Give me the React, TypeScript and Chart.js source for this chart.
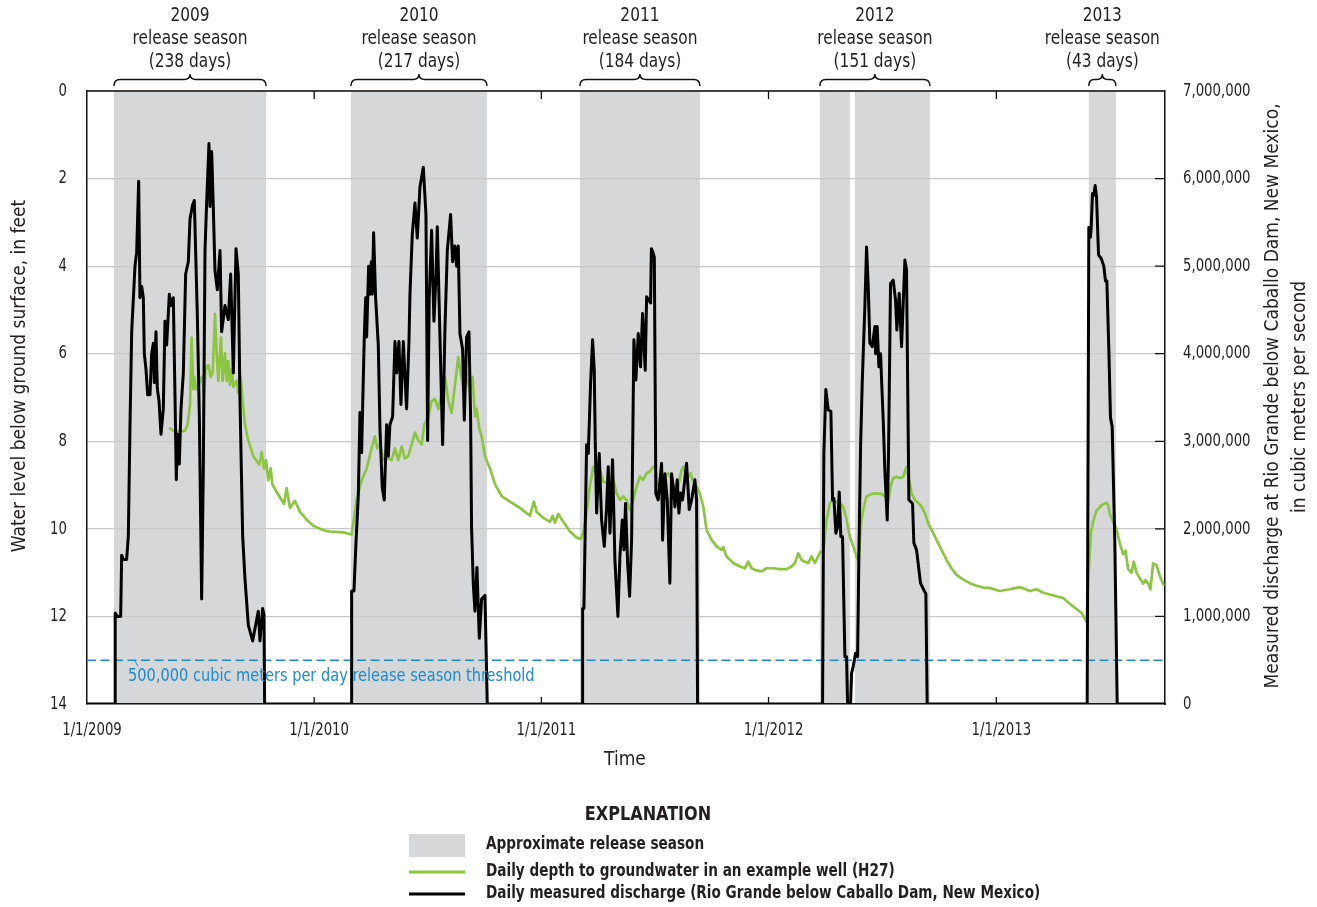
import { useEffect, useRef } from "react";
import { Chart, registerables } from "chart.js";

Chart.register(...registerables);

// ---- Time axis (days since 1/1/2009) ----
const YEAR_TICKS = [0, 365, 730, 1095, 1461];
const YEAR_LABELS = ["1/1/2009", "1/1/2010", "1/1/2011", "1/1/2012", "1/1/2013"];
const X_MAX = 1732;

// ---- Release seasons ----
const SEASON_YEARS = ["2009", "2010", "2011", "2012", "2013"];
const SEASON_LENGTH_DAYS = [238, 217, 184, 151, 43];
// shaded spans for each season, [start, end] in days since 1/1/2009
const SEASON_SPANS: number[][][] = [
  [[43.4, 287.6]],
  [[424.1, 642.6]],
  [[792.0, 984.7]],
  [[1177.5, 1225.7], [1233.7, 1354.2]],
  [[1609.6, 1653.0]],
];

// ---- Daily measured discharge, Rio Grande below Caballo Dam ----
const FLOW_DAY = [
  0, 45.0, 45.3, 48.7, 54.1, 55.7, 58.4, 63.7, 66.4, 69.1, 71.8, 77.1, 79.8, 83.0, 85.1, 87.8, 90.5, 92.1, 94.8, 97.5,
  101.2, 103.9, 106.6, 108.2, 110.8, 113.0, 115.7, 118.9, 122.6, 125.3, 128.0, 132.3, 134.9, 138.7, 141.4, 143.5, 145.6,
  148.3, 151.0, 154.8, 158.5, 162.8, 165.5, 169.7, 172.4, 177.2, 180.5, 184.2, 186.9, 189.6, 192.2, 196.0, 197.6, 200.3,
  202.9, 205.6, 209.4, 213.7, 216.3, 221.7, 227.0, 230.8, 235.1, 239.4, 243.1, 245.8, 250.1, 253.8, 259.2, 266.1, 275.2,
  277.9, 282.2, 284.3, 285.4,
  424.6, 425.2, 428.9, 432.1, 435.9, 438.6, 441.2, 442.8, 445.5, 447.7, 449.3, 452.5, 454.6, 456.8, 458.4, 460.5, 463.7,
  468.0, 470.7, 474.4, 477.6, 481.4, 484.1, 486.7, 491.0, 494.8, 497.5, 501.2, 504.4, 508.2, 513.5, 517.3, 518.9, 522.6,
  526.9, 530.7, 534.9, 540.3, 544.6, 547.3, 549.9, 553.7, 557.4, 560.6, 562.8, 567.1, 571.4, 575.1, 578.9, 584.2, 587.4,
  591.2, 593.8, 596.5, 599.2, 603.5, 606.2, 609.9, 613.7, 616.3, 617.9, 620.6, 623.3, 626.5, 630.3, 634.0, 639.4, 643.1,
  796.0, 796.3, 798.4, 802.7, 805.4, 809.1, 812.3, 815.0, 816.6, 818.8, 823.0, 826.8, 831.1, 834.8, 837.5, 840.2, 844.4,
  848.2, 853.0, 856.2, 860.0, 862.7, 865.3, 868.6, 871.8, 875.0, 878.7, 881.9, 885.7, 889.4, 892.6, 896.9, 899.1, 905.5,
  906.8, 909.7, 911.5, 914.0, 917.8, 923.2, 924.8, 928.5, 932.3, 936.5, 939.2, 941.9, 944.6, 948.3, 951.0, 953.7, 956.9,
  963.3, 967.6, 971.4, 976.7, 979.4, 981.0,
  1181.8, 1183.9, 1187.1, 1190.9, 1195.2, 1197.9, 1200.0, 1203.2, 1205.9, 1208.6, 1211.2, 1213.9, 1217.7, 1220.4, 1222.0,
  1226.8, 1228.4, 1231.1, 1234.8, 1238.1, 1240.2, 1242.9, 1245.5, 1249.8, 1252.5, 1255.2, 1257.8, 1261.6, 1265.9, 1267.0,
  1269.6, 1272.3, 1275.0, 1277.1, 1279.3, 1281.9, 1285.7, 1287.8, 1291.0, 1295.3, 1299.1, 1301.2, 1305.0, 1308.7, 1314.1,
  1316.7, 1320.5, 1326.4, 1328.5, 1332.8, 1339.2, 1344.6, 1347.8, 1349.9,
  1607.0, 1609.6, 1612.3, 1613.4, 1615.5, 1617.7, 1619.8, 1622.0, 1625.2, 1630.0, 1633.7, 1636.4, 1638.6, 1641.8, 1644.4,
  1647.1, 1651.4, 1655.2, 1732,
];
const FLOW_M3 = [
  0, 0, 1.04e6, 1.0e6, 1.0e6, 1.7e6, 1.65e6, 1.65e6, 1.92e6, 3.19e6, 4.25e6, 5.0e6, 5.16e6, 5.97e6, 4.64e6, 4.77e6,
  4.64e6, 4.0e6, 3.82e6, 3.53e6, 3.53e6, 4.0e6, 4.12e6, 3.67e6, 4.25e6, 3.6e6, 3.46e6, 3.08e6, 3.37e6, 4.37e6, 4.1e6,
  4.68e6, 4.55e6, 4.64e6, 3.51e6, 2.56e6, 3.08e6, 2.74e6, 3.37e6, 3.78e6, 4.91e6, 5.05e6, 5.54e6, 5.7e6, 5.75e6, 4.46e6,
  3.28e6, 1.2e6, 2.69e6, 5.18e6, 5.72e6, 6.4e6, 5.68e6, 6.31e6, 5.68e6, 4.95e6, 4.73e6, 5.18e6, 4.25e6, 4.55e6, 4.39e6,
  4.91e6, 3.78e6, 5.2e6, 4.91e6, 3.46e6, 1.92e6, 1.43e6, 0.9e6, 0.72e6, 1.06e6, 0.72e6, 1.09e6, 1.02e6, 0,
  0, 1.29e6, 1.29e6, 1.83e6, 2.38e6, 3.33e6, 2.87e6, 3.37e6, 4.19e6, 4.64e6, 4.19e6, 5.0e6, 4.68e6, 5.05e6, 4.68e6,
  5.38e6, 4.64e6, 4.1e6, 3.14e6, 2.47e6, 2.33e6, 3.19e6, 2.83e6, 3.19e6, 3.28e6, 4.14e6, 3.78e6, 4.14e6, 3.42e6, 4.14e6,
  3.37e6, 4.14e6, 4.68e6, 5.36e6, 5.72e6, 5.32e6, 5.9e6, 6.13e6, 5.59e6, 3.01e6, 4.64e6, 5.41e6, 4.37e6, 4.86e6, 5.45e6,
  4.19e6, 2.96e6, 4.28e6, 5.18e6, 5.59e6, 5.05e6, 5.23e6, 5.0e6, 5.23e6, 4.23e6, 4.05e6, 3.24e6, 4.19e6, 4.25e6, 3.28e6,
  2.01e6, 1.38e6, 1.06e6, 1.56e6, 0.75e6, 1.2e6, 1.24e6, 0,
  0, 1.09e6, 1.09e6, 2.96e6, 2.86e6, 3.66e6, 4.16e6, 3.81e6, 3.01e6, 2.18e6, 2.86e6, 2.1e6, 1.8e6, 2.25e6, 2.71e6,
  1.95e6, 2.79e6, 1.64e6, 1.0e6, 1.68e6, 2.1e6, 1.76e6, 2.29e6, 1.61e6, 1.23e6, 1.87e6, 4.16e6, 3.7e6, 4.23e6, 3.85e6,
  4.46e6, 3.81e6, 4.65e6, 4.58e6, 5.2e6, 5.15e6, 5.1e6, 2.4e6, 2.33e6, 2.75e6, 1.87e6, 2.63e6, 2.33e6, 1.38e6, 2.63e6,
  2.48e6, 2.25e6, 2.56e6, 2.18e6, 2.41e6, 2.33e6, 2.75e6, 2.22e6, 2.33e6, 2.56e6, 2.33e6, 0,
  0, 2.86e6, 3.59e6, 3.36e6, 3.34e6, 2.33e6, 2.35e6, 1.95e6, 2.02e6, 2.42e6, 1.91e6, 1.91e6, 0.54e6, 0.54e6, 0, 0,
  0.35e6, 0.43e6, 0.58e6, 0.54e6, 1.72e6, 2.94e6, 3.66e6, 4.54e6, 5.22e6, 4.77e6, 4.12e6, 4.08e6, 4.31e6, 4.0e6, 4.31e6,
  3.85e6, 4.0e6, 3.62e6, 3.24e6, 2.67e6, 2.1e6, 2.86e6, 4.8e6, 4.84e6, 4.61e6, 4.27e6, 4.69e6, 4.08e6, 5.07e6, 4.96e6,
  2.33e6, 2.29e6, 1.84e6, 1.76e6, 1.38e6, 1.3e6, 1.26e6, 0,
  0, 5.44e6, 5.33e6, 5.44e6, 5.83e6, 5.81e6, 5.92e6, 5.79e6, 5.13e6, 5.08e6, 5.0e6, 4.83e6, 4.83e6, 4.04e6, 3.27e6,
  3.17e6, 1.85e6, 0, 0,
];

// ---- Daily depth to groundwater, well H27 ----
const WELL_DAY = [
  132.3, 138.7, 149.4, 157.4, 161.7, 165.5, 168.1, 170.8, 172.4, 175.1, 178.8, 184.2, 188.0, 190.6, 194.9, 198.7, 201.9,
  205.6, 208.3, 211.0, 215.3, 217.9, 221.7, 224.4, 227.0, 229.7, 232.4, 235.1, 240.4, 243.1, 246.9, 250.1, 253.8, 259.2,
  267.2, 276.8, 280.6, 284.3, 287.6, 291.3, 295.1, 297.7, 304.7, 312.7, 316.5, 320.7, 326.1, 334.1, 342.2, 352.9, 363.6,
  374.3, 385.0, 390.4, 411.8, 425.2, 433.2, 441.3, 449.3, 457.3, 462.7, 466.4, 470.7, 476.1, 484.1, 489.4, 494.8, 500.1,
  505.5, 510.8, 516.2, 521.6, 526.9, 532.3, 537.6, 541.9, 548.3, 553.7, 559.0, 564.4, 569.8, 575.1, 580.5, 585.8, 591.2,
  596.5, 600.3, 604.6, 609.9, 615.3, 619.6, 623.3, 626.0, 630.3, 634.0, 639.4, 647.4, 655.4, 666.1, 679.5, 695.6, 711.6,
  718.1, 722.4, 733.1, 743.8, 748.1, 751.8, 757.2, 765.2, 775.9, 786.7, 793.1, 797.3, 802.7, 808.0, 813.4, 818.8, 824.1,
  829.4, 837.5, 845.5, 850.9, 856.2, 861.6, 866.9, 872.3, 877.6, 883.0, 888.4, 893.7, 899.1, 904.4, 909.8, 912.4, 917.8,
  925.8, 933.9, 939.2, 944.6, 949.9, 955.3, 959.0, 963.3, 969.7, 974.0, 979.4, 984.7, 990.1, 995.4, 1003.5, 1011.5,
  1019.5, 1022.2, 1027.6, 1038.3, 1049.0, 1057.0, 1062.4, 1067.7, 1075.8, 1083.8, 1091.8, 1102.6, 1113.3, 1124.0, 1132.0,
  1137.3, 1142.7, 1148.1, 1153.4, 1158.8, 1164.1, 1169.5, 1174.8, 1178.6, 1182.9, 1188.2, 1193.6, 1197.9, 1203.2, 1209.6,
  1215.0, 1220.4, 1225.7, 1231.1, 1236.4, 1239.6, 1241.8, 1244.4, 1248.2, 1252.5, 1260.5, 1268.5, 1276.6, 1281.9, 1287.3,
  1291.0, 1295.3, 1300.7, 1306.0, 1311.4, 1316.7, 1321.0, 1324.8, 1330.1, 1335.5, 1340.8, 1346.2, 1351.5, 1356.9, 1364.9,
  1372.9, 1381.0, 1389.0, 1397.0, 1407.8, 1418.5, 1429.2, 1439.9, 1450.6, 1466.7, 1482.7, 1498.8, 1514.9, 1525.6, 1536.3,
  1547.0, 1557.7, 1568.4, 1579.1, 1589.8, 1597.9, 1605.9, 1608.5, 1611.2, 1613.0, 1616.6, 1622.0, 1630.0, 1638.0, 1640.7,
  1643.4, 1648.7, 1654.1, 1659.4, 1664.8, 1668.5, 1672.8, 1678.2, 1681.9, 1686.2, 1691.6, 1696.9, 1700.7, 1705.0, 1708.7,
  1713.0, 1718.3, 1723.7, 1730.1,
];
const WELL_DEPTH_FT = [
  7.69, 7.76, 7.78, 7.76, 7.62, 7.17, 5.63, 6.81, 6.53, 6.81, 6.71, 6.53, 6.9, 6.35, 6.26, 6.53, 6.44, 5.09, 5.99, 6.62,
  5.63, 6.62, 5.99, 6.62, 6.17, 6.71, 6.35, 6.76, 6.62, 6.9, 6.53, 7.08, 7.62, 7.98, 8.34, 8.53, 8.25, 8.62, 8.43, 8.89,
  8.62, 8.98, 9.16, 9.34, 9.43, 9.07, 9.52, 9.36, 9.61, 9.79, 9.93, 10.0, 10.05, 10.06, 10.08, 10.13, 9.34, 8.89, 8.62,
  8.16, 7.89, 8.16, 8.07, 8.43, 8.39, 8.43, 8.16, 8.43, 8.12, 8.39, 8.34, 8.07, 7.8, 7.98, 8.07, 7.62, 7.44, 7.08, 7.03,
  7.26, 6.9, 6.53, 7.08, 7.35, 6.71, 6.08, 6.44, 6.81, 6.44, 6.9, 6.53, 7.44, 7.26, 7.71, 7.89, 8.34, 8.62, 8.98, 9.25,
  9.38, 9.52, 9.7, 9.38, 9.61, 9.75, 9.84, 9.7, 9.86, 9.66, 9.84, 10.06, 10.2, 10.23, 10.1, 9.64, 9.03, 8.58, 8.73, 8.65,
  8.92, 8.96, 8.88, 9.19, 9.34, 9.26, 9.34, 9.57, 9.34, 9.03, 8.81, 8.88, 8.73, 8.69, 8.58, 8.58, 9.03, 8.81, 8.73, 8.88,
  9.11, 9.03, 8.65, 8.58, 8.88, 8.73, 8.92, 9.03, 9.19, 9.49, 10.02, 10.25, 10.4, 10.48, 10.42, 10.63, 10.78, 10.86,
  10.9, 10.75, 10.9, 10.95, 10.97, 10.9, 10.9, 10.92, 10.92, 10.86, 10.78, 10.56, 10.71, 10.75, 10.78, 10.63, 10.78,
  10.63, 10.52, 10.56, 9.79, 9.41, 9.34, 9.38, 9.41, 9.49, 9.79, 10.18, 10.4, 10.63, 10.75, 10.25, 9.79, 9.49, 9.26, 9.2,
  9.19, 9.2, 9.26, 9.41, 9.03, 8.84, 8.81, 8.84, 8.81, 8.58, 8.88, 9.19, 9.34, 9.41, 9.49, 9.64, 9.87, 10.02, 10.25,
  10.48, 10.71, 10.9, 11.05, 11.16, 11.24, 11.3, 11.34, 11.35, 11.42, 11.38, 11.33, 11.42, 11.38, 11.46, 11.5, 11.54,
  11.58, 11.71, 11.83, 11.92, 12.12, 11.2, 10.5, 10.1, 9.83, 9.58, 9.46, 9.4, 9.46, 9.67, 9.83, 10.0, 10.33, 10.58,
  10.5, 10.92, 11.0, 10.75, 11.0, 11.13, 11.25, 11.17, 11.25, 11.38, 10.79, 10.83, 11.08, 11.29,
];

const THRESHOLD_M3 = 500000;
const THRESHOLD_LABEL = "500,000 cubic meters per day release season threshold";

const SEASON_LEGEND = "Approximate release season";
const FLOW_LABEL = "Daily measured discharge (Rio Grande below Caballo Dam, New Mexico)";
const WELL_LABEL = "Daily depth to groundwater in an example well (H27)";
const X_TITLE = "Time";
const Y_TITLE = "Water level below ground surface, in feet";
const Y2_TITLE = [
  "Measured discharge at Rio Grande below Caballo Dam, New Mexico,",
  "in cubic meters per second",
];

const FONT = '"DejaVu Sans Condensed", "Liberation Sans Narrow", "Roboto", sans-serif';
const INK = "#231f20";
const BAND = "#d6d7d9";
const GREEN = "#8cc63f";
const BLUE = "#1a8bd2";

// text drawn with a horizontal squeeze, giving a narrower face
function squeezed(
  ctx: CanvasRenderingContext2D,
  text: string,
  x: number,
  y: number,
  k: number,
  align: CanvasTextAlign,
  rotate = 0
) {
  ctx.save();
  ctx.translate(x, y);
  if (rotate) ctx.rotate(rotate);
  ctx.scale(k, 1);
  ctx.textAlign = align;
  ctx.fillText(text, 0, 0);
  ctx.restore();
}

const bandPlugin = {
  id: "releaseBands",
  beforeDraw(chart: any) {
    const { ctx, chartArea, scales } = chart;
    ctx.save();
    ctx.fillStyle = BAND;
    SEASON_SPANS.forEach((spans) =>
      spans.forEach(([a, b]) => {
        const x0 = scales.x.getPixelForValue(a);
        const x1 = scales.x.getPixelForValue(b);
        ctx.fillRect(x0, chartArea.top, x1 - x0, chartArea.bottom - chartArea.top);
      })
    );
    ctx.restore();
  },
};

const textPlugin = {
  id: "figureText",
  afterDraw(chart: any) {
    const { ctx, chartArea, scales } = chart;
    const { left, right, top, bottom } = chartArea;
    ctx.save();
    ctx.textBaseline = "middle";

    // top frame line
    ctx.strokeStyle = "#111";
    ctx.lineWidth = 1.5;
    ctx.beginPath();
    ctx.moveTo(left, top);
    ctx.lineTo(right, top);
    ctx.stroke();

    // inward tick marks: years on top and bottom edges, discharge on the right edge
    ctx.lineWidth = 1.3;
    ctx.beginPath();
    scales.x.ticks.forEach((t: any) => {
      const x = scales.x.getPixelForValue(t.value);
      if (x <= left + 1) return;
      ctx.moveTo(x, top);
      ctx.lineTo(x, top + 8);
      ctx.moveTo(x, bottom);
      ctx.lineTo(x, bottom - 7);
    });
    scales.y2.ticks.forEach((t: any) => {
      const y = scales.y2.getPixelForValue(t.value);
      if (y <= top + 1 || y >= bottom - 1) return;
      ctx.moveTo(right, y);
      ctx.lineTo(right - 10, y);
    });
    ctx.stroke();

    // tick labels
    ctx.fillStyle = INK;
    ctx.font = `18px ${FONT}`;
    scales.x.ticks.forEach((t: any) => {
      const i = YEAR_TICKS.indexOf(t.value);
      if (i < 0) return;
      squeezed(ctx, YEAR_LABELS[i], scales.x.getPixelForValue(t.value) + 5, 730, 0.82, "center");
    });
    scales.y.ticks.forEach((t: any) => {
      squeezed(ctx, String(t.value), left - 20, scales.y.getPixelForValue(t.value), 0.82, "right");
    });
    scales.y2.ticks.forEach((t: any) => {
      squeezed(
        ctx,
        Number(t.value).toLocaleString("en-US"),
        right + 18,
        scales.y2.getPixelForValue(t.value),
        0.82,
        "left"
      );
    });

    // release-season braces and labels
    SEASON_SPANS.forEach((spans, i) => {
      const xs = scales.x.getPixelForValue(spans[0][0]);
      const xe = scales.x.getPixelForValue(spans[spans.length - 1][1]);
      const mid = (xs + xe) / 2;
      const yEnd = top - 5;
      const yBar = top - 11.5;
      const yTip = top - 17;
      const r = Math.min(6, (xe - xs) / 5);
      ctx.strokeStyle = "#111";
      ctx.lineWidth = 1.4;
      ctx.beginPath();
      ctx.moveTo(xs, yEnd);
      ctx.quadraticCurveTo(xs, yBar, xs + r, yBar);
      ctx.lineTo(mid - r, yBar);
      ctx.quadraticCurveTo(mid, yBar, mid, yTip);
      ctx.quadraticCurveTo(mid, yBar, mid + r, yBar);
      ctx.lineTo(xe - r, yBar);
      ctx.quadraticCurveTo(xe, yBar, xe, yEnd);
      ctx.stroke();

      ctx.font = `19px ${FONT}`;
      squeezed(ctx, SEASON_YEARS[i], mid, 16, 0.9, "center");
      squeezed(ctx, "release season", mid, 39, 0.9, "center");
      squeezed(ctx, `(${SEASON_LENGTH_DAYS[i]} days)`, mid, 62, 0.9, "center");
    });

    // threshold label with leader
    const yT = scales.y2.getPixelForValue(THRESHOLD_M3);
    ctx.strokeStyle = BLUE;
    ctx.lineWidth = 1;
    ctx.beginPath();
    ctx.moveTo(left + 48, yT + 1);
    ctx.lineTo(left + 51, yT + 6);
    ctx.stroke();
    ctx.fillStyle = BLUE;
    ctx.font = `18px ${FONT}`;
    squeezed(ctx, THRESHOLD_LABEL, left + 41, yT + 16, 0.9, "left");

    // axis titles
    ctx.fillStyle = INK;
    ctx.font = `20px ${FONT}`;
    squeezed(ctx, X_TITLE, (left + right) / 2 - 1, 760, 0.95, "center");
    squeezed(ctx, Y_TITLE, 20, 376, 0.95, "center", -Math.PI / 2);
    squeezed(ctx, Y2_TITLE[0], 1273, 396, 0.95, "center", -Math.PI / 2);
    squeezed(ctx, Y2_TITLE[1], 1300, 397, 0.95, "center", -Math.PI / 2);

    // explanation block
    const ds = chart.data.datasets;
    ctx.font = `bold 19px ${FONT}`;
    squeezed(ctx, "EXPLANATION", 648, 815, 0.94, "center");
    ctx.font = `bold 17px ${FONT}`;
    ctx.fillStyle = BAND;
    ctx.fillRect(409, 834, 56, 23);
    ctx.fillStyle = INK;
    squeezed(ctx, SEASON_LEGEND, 486, 845, 0.89, "left");
    const rows = [
      { d: ds[1], y: 872 },
      { d: ds[0], y: 894 },
    ];
    rows.forEach(({ d, y }) => {
      ctx.strokeStyle = d.borderColor;
      ctx.lineWidth = 3;
      ctx.beginPath();
      ctx.moveTo(409, y);
      ctx.lineTo(465, y);
      ctx.stroke();
      ctx.fillStyle = INK;
      squeezed(ctx, d.label, 486, y, 0.89, "left");
    });

    ctx.restore();
  },
};

export default function App() {
  const ref = useRef<HTMLCanvasElement | null>(null);

  useEffect(() => {
    document.body.style.margin = "0";
    const canvas = ref.current;
    if (!canvas) return;

    const chart = new Chart(canvas, {
      type: "line",
      data: {
        datasets: [
          {
            label: FLOW_LABEL,
            data: FLOW_DAY.map((d, i) => ({ x: d, y: FLOW_M3[i] })),
            yAxisID: "y2",
            borderColor: "#000000",
            borderWidth: 3,
            borderJoinStyle: "round",
            pointRadius: 0,
            tension: 0,
          },
          {
            label: WELL_LABEL,
            data: WELL_DAY.map((d, i) => ({ x: d, y: WELL_DEPTH_FT[i] })),
            yAxisID: "y",
            borderColor: GREEN,
            borderWidth: 2.7,
            borderJoinStyle: "round",
            pointRadius: 0,
            tension: 0,
          },
          {
            label: "threshold",
            data: [
              { x: 0, y: THRESHOLD_M3 },
              { x: X_MAX, y: THRESHOLD_M3 },
            ],
            yAxisID: "y2",
            borderColor: BLUE,
            borderWidth: 1.6,
            borderDash: [9, 4.5],
            pointRadius: 0,
          },
        ],
      },
      options: {
        animation: false,
        responsive: false,
        maintainAspectRatio: false,
        layout: { padding: { top: 91, left: 0, right: 0, bottom: 0 } },
        plugins: { legend: { display: false }, tooltip: { enabled: false } },
        scales: {
          x: {
            type: "linear",
            min: 0,
            max: X_MAX,
            afterBuildTicks: (s: any) => {
              s.ticks = YEAR_TICKS.map((v) => ({ value: v }));
            },
            afterFit: (s: any) => {
              s.height = 203;
            },
            ticks: { display: false },
            grid: { display: false, drawTicks: false },
            border: { display: true, color: "#111", width: 1.5 },
          },
          y: {
            position: "left",
            reverse: true,
            min: 0,
            max: 14,
            afterFit: (s: any) => {
              s.width = 87;
            },
            ticks: { stepSize: 2, display: false },
            grid: { color: "#c8c8c8", lineWidth: 1.2, drawTicks: false },
            border: { display: true, color: "#111", width: 1.5 },
          },
          y2: {
            position: "right",
            min: 0,
            max: 7000000,
            afterFit: (s: any) => {
              s.width = 152;
            },
            ticks: { stepSize: 1000000, display: false },
            grid: { display: false, drawTicks: false },
            border: { display: true, color: "#111", width: 1.5 },
          },
        },
      },
      plugins: [bandPlugin, textPlugin],
    });
    return () => chart.destroy();
  }, []);

  return (
    <div style={{ width: 1317, height: 907, background: "#fff" }}>
      <canvas ref={ref} width={1317} height={907} style={{ display: "block" }} />
    </div>
  );
}
